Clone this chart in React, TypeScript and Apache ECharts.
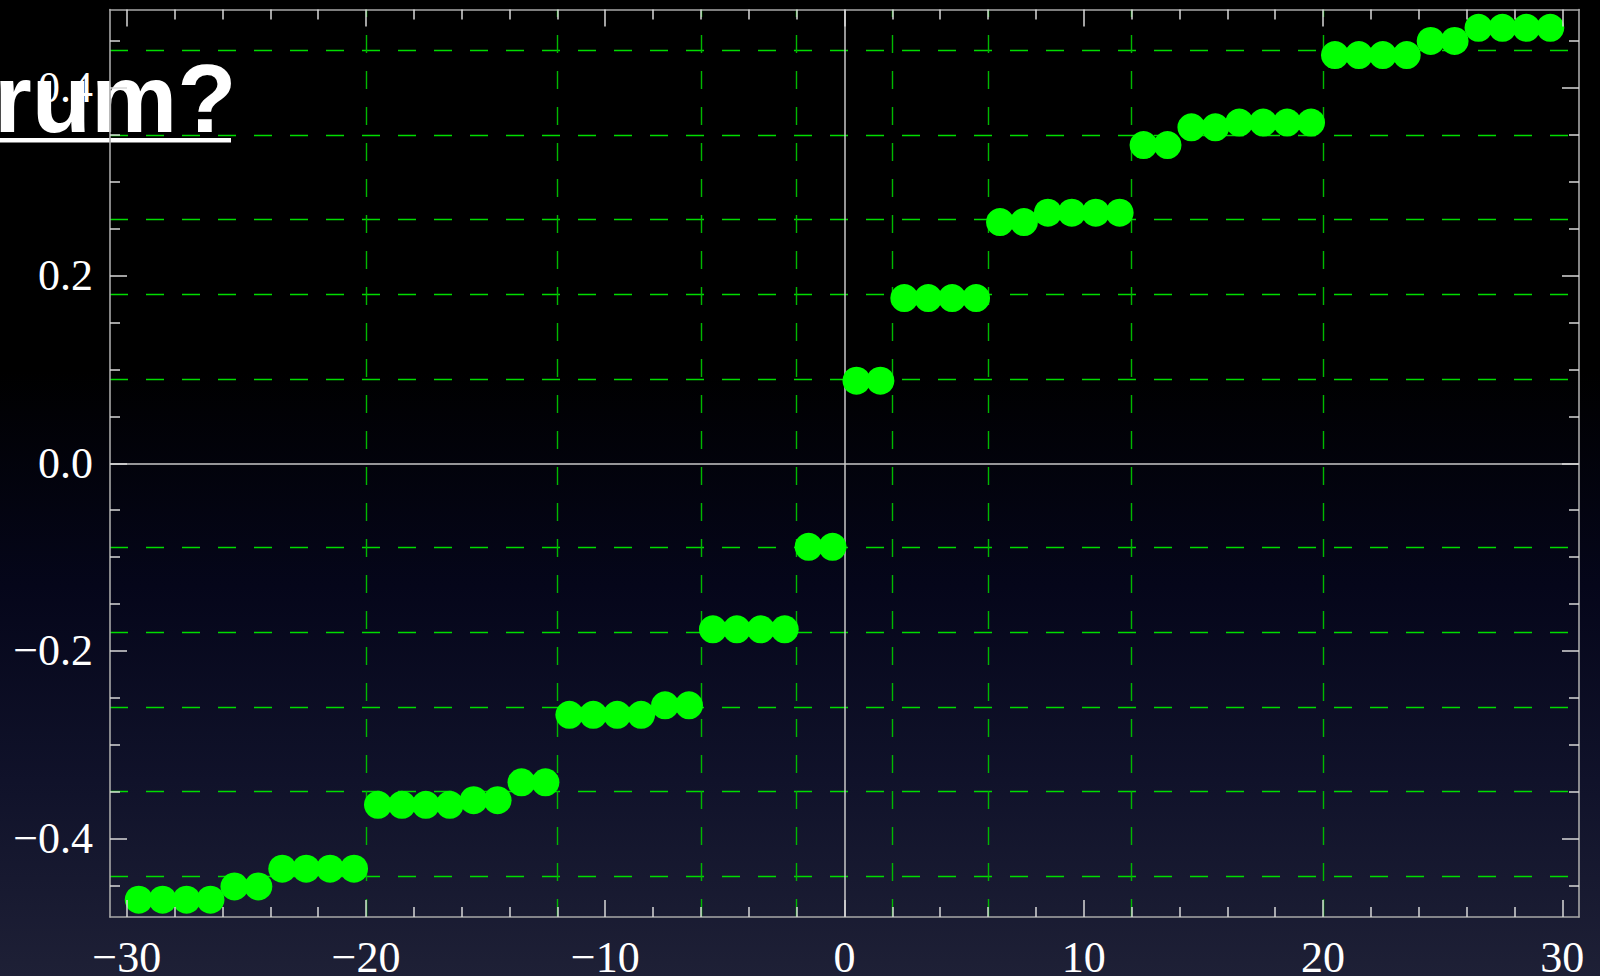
import React, { useEffect, useRef } from "react";
import * as echarts from "echarts";

// Level index (x) and computed eigenvalue (y) for each state
const stateX: number[] = [
  -29.5, -28.5, -27.5, -26.5, -25.5, -24.5, -23.5, -22.5, -21.5, -20.5,
  -19.5, -18.5, -17.5, -16.5, -15.5, -14.5, -13.5, -12.5, -11.5, -10.5,
  -9.5, -8.5, -7.5, -6.5, -5.5, -4.5, -3.5, -2.5, -1.5, -0.5,
  0.5, 1.5, 2.5, 3.5, 4.5, 5.5, 6.5, 7.5, 8.5, 9.5,
  10.5, 11.5, 12.5, 13.5, 14.5, 15.5, 16.5, 17.5, 18.5, 19.5,
  20.5, 21.5, 22.5, 23.5, 24.5, 25.5, 26.5, 27.5, 28.5, 29.5,
];
const stateY: number[] = [
  -0.465, -0.465, -0.465, -0.465, -0.451, -0.451, -0.432, -0.432, -0.432, -0.432,
  -0.364, -0.364, -0.364, -0.364, -0.359, -0.359, -0.340, -0.340, -0.268, -0.268,
  -0.268, -0.268, -0.258, -0.258, -0.177, -0.177, -0.177, -0.177, -0.089, -0.089,
  0.088, 0.088, 0.176, 0.176, 0.176, 0.176, 0.257, 0.257, 0.267, 0.267,
  0.267, 0.267, 0.339, 0.339, 0.358, 0.358, 0.363, 0.363, 0.363, 0.363,
  0.435, 0.435, 0.435, 0.435, 0.450, 0.450, 0.464, 0.464, 0.464, 0.464,
];

// Reference levels (dashed green guides)
const levelLinesY: number[] = [-0.44, -0.352, -0.264, -0.176, -0.088, 0.088, 0.176, 0.264, 0.352, 0.44];
const shellEdgesX: number[] = [-20, -12, -6, -2, 2, 6, 12, 20];

// Axis ranges and ticks
const X_RANGE: [number, number] = [-30.7, 30.7];
const Y_RANGE: [number, number] = [-0.4835, 0.4835];
const xMajorTicks: number[] = [-30, -20, -10, 0, 10, 20, 30];
const xMinorTicks: number[] = [
  -28, -26, -24, -22, -18, -16, -14, -12, -8, -6, -4, -2,
  2, 4, 6, 8, 12, 14, 16, 18, 22, 24, 26, 28,
];
const yMajorTicks: number[] = [-0.4, -0.2, 0, 0.2, 0.4];
const yMinorTicks: number[] = [-0.45, -0.35, -0.3, -0.25, -0.15, -0.1, -0.05, 0.05, 0.1, 0.15, 0.25, 0.3, 0.35, 0.45];

const titleText = "rum?";

const FRAME = "#a8a8a8";
const TICK = "#d8d8d8";
const SERIF = "'Liberation Serif', 'Times New Roman', serif";

const minus = (s: string) => s.replace("-", "\u2212");

function xAxisDef(position: "bottom" | "top", ticks: number[], len: number, labels: boolean, line: boolean) {
  return {
    type: "value",
    position,
    min: X_RANGE[0],
    max: X_RANGE[1],
    z: 3,
    axisLine: { show: line, onZero: false, lineStyle: { color: FRAME, width: 1.6 } },
    axisTick: { show: true, inside: true, length: len, customValues: ticks, lineStyle: { color: TICK, width: 1.5 } },
    axisLabel: labels
      ? {
          show: true,
          customValues: ticks,
          color: "#ffffff",
          fontFamily: SERIF,
          fontSize: 44,
          margin: 18,
          formatter: (v: number) => minus(String(Math.round(v))),
        }
      : { show: false },
    splitLine: { show: false },
    minorTick: { show: false },
  };
}

function yAxisDef(position: "left" | "right", ticks: number[], len: number, labels: boolean, line: boolean) {
  return {
    type: "value",
    position,
    min: Y_RANGE[0],
    max: Y_RANGE[1],
    z: 3,
    axisLine: { show: line, onZero: false, lineStyle: { color: FRAME, width: 1.6 } },
    axisTick: { show: true, inside: true, length: len, customValues: ticks, lineStyle: { color: TICK, width: 1.5 } },
    axisLabel: labels
      ? {
          show: true,
          customValues: ticks,
          color: "#ffffff",
          fontFamily: SERIF,
          fontSize: 44,
          margin: 17,
          formatter: (v: number) => minus(v.toFixed(1)),
        }
      : { show: false },
    splitLine: { show: false },
    minorTick: { show: false },
  };
}

export default function App() {
  const ref = useRef<HTMLDivElement>(null);

  useEffect(() => {
    if (!ref.current) return;
    const chart = echarts.init(ref.current, undefined, { renderer: "svg" });

    const dashed = { type: [18, 18] as number[], width: 1.4, color: "#00d400" };
    const guideLines: any[] = [
      ...levelLinesY.map((v) => ({ yAxis: v, lineStyle: { ...dashed, color: "#00dc00" } })),
      ...shellEdgesX.map((v) => ({ xAxis: v, lineStyle: { ...dashed, color: "#00b800" } })),
      { xAxis: 0, lineStyle: { type: "solid", width: 1.5, color: "#c8c8c8" } },
      { yAxis: 0, lineStyle: { type: "solid", width: 1.5, color: "#c8c8c8" } },
    ];

    chart.setOption({
      animation: false,
      backgroundColor: {
        type: "linear",
        x: 0,
        y: 0,
        x2: 0,
        y2: 1,
        colorStops: [
          { offset: 0, color: "#000000" },
          { offset: 0.38, color: "#000000" },
          { offset: 0.6, color: "#05061a" },
          { offset: 0.8, color: "#10122a" },
          { offset: 1, color: "#1e2036" },
        ],
      },
      grid: {
        left: 110,
        right: 21,
        top: 9.5,
        bottom: 59,
        containLabel: false,
        outerBoundsMode: "none",
      },
      xAxis: [
        xAxisDef("bottom", xMajorTicks, 17, true, true),
        xAxisDef("bottom", xMinorTicks, 10, false, false),
        xAxisDef("top", xMajorTicks, 17, false, true),
        xAxisDef("top", xMinorTicks, 10, false, false),
      ],
      yAxis: [
        yAxisDef("left", yMajorTicks, 17, true, true),
        yAxisDef("left", yMinorTicks, 10, false, false),
        yAxisDef("right", yMajorTicks, 17, false, true),
        yAxisDef("right", yMinorTicks, 10, false, false),
      ],
      graphic: [
        {
          type: "text",
          z: -1,
          x: -6,
          y: 98,
          style: {
            text: titleText,
            fill: "#ffffff",
            font: "bold 97px 'Liberation Sans', Arial, sans-serif",
            align: "left",
            verticalAlign: "middle",
          },
        },
        {
          type: "rect",
          z: -1,
          shape: { x: 0, y: 138, width: 231, height: 4.5 },
          style: { fill: "#ffffff" },
        },
      ],
      series: [
        {
          type: "line",
          data: [],
          xAxisIndex: 0,
          yAxisIndex: 0,
          z: 1,
          silent: true,
          markLine: {
            z: 1,
            silent: true,
            symbol: ["none", "none"],
            label: { show: false },
            emphasis: { disabled: true },
            data: guideLines,
          },
        },
        {
          type: "scatter",
          xAxisIndex: 0,
          yAxisIndex: 0,
          z: 2,
          symbol: "circle",
          symbolSize: 28,
          itemStyle: { color: "#00ff00", opacity: 1 },
          data: stateX.map((x, i) => [x, stateY[i]]),
        },
      ],
    });

    return () => chart.dispose();
  }, []);

  return (
    <div
      ref={ref}
      style={{ position: "fixed", left: 0, top: 0, width: 1600, height: 976 }}
    />
  );
}
